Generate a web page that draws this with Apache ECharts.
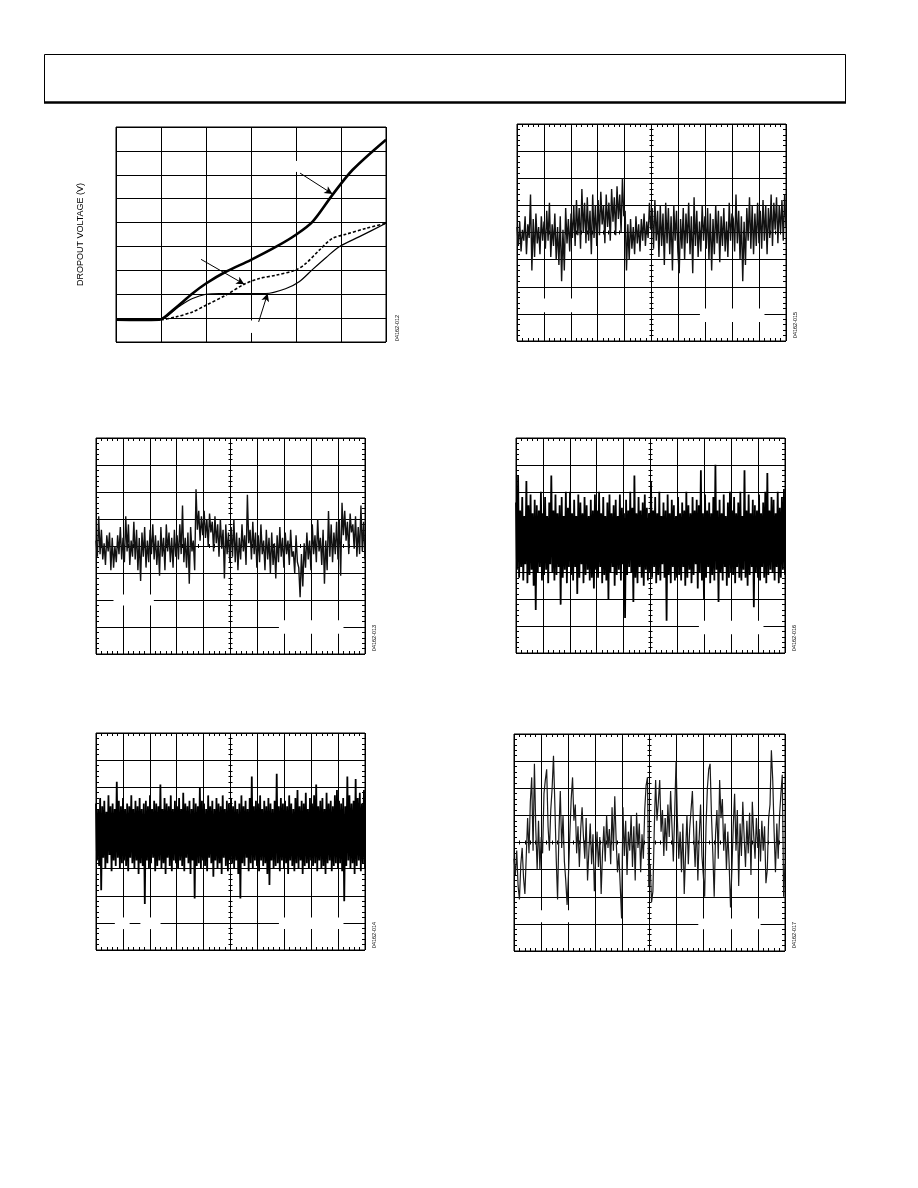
<!DOCTYPE html>
<html><head><meta charset="utf-8">
<script src="https://cdn.jsdelivr.net/npm/echarts@6/dist/echarts.min.js"></script>
<style>html,body{margin:0;padding:0;background:#fff}#c{width:918px;height:1188px}</style>
</head><body><div id="c"></div>
<script>
// ---------- DATA ----------
// Chart 1: dropout voltage curves (x: grid divisions 0..6, y: grid divisions 0..9)
const dropoutHeavy = [[0,0.93],[0.5,0.92],[0.96,0.93],[1.26,1.33],[1.7,2.03],[2.0,2.45],[2.44,2.94],[2.99,3.43],[3.56,3.99],[3.99,4.48],[4.37,5.04],[4.81,6.16],[5.26,7.21],[6.0,8.47]];
const dropoutDashed = [[0,0.93],[0.96,0.93],[1.33,1.05],[1.7,1.26],[2.0,1.54],[2.44,1.96],[2.85,2.42],[3.19,2.66],[3.56,2.80],[3.99,3.01],[4.22,3.29],[4.52,3.85],[4.81,4.34],[5.11,4.51],[5.56,4.76],[6.0,4.97]];
const dropoutThin = [[0,0.93],[0.96,0.93],[1.41,1.50],[1.7,1.82],[2.0,2.0],[2.3,2.03],[3.33,2.03],[3.78,2.24],[4.07,2.52],[4.37,3.04],[4.67,3.54],[4.96,3.99],[5.41,4.41],[6.0,4.97]];
const dropoutArrows = [[[4.09,7.07],[4.81,6.2]],[[1.89,3.46],[2.85,2.42]],[[3.17,0.84],[3.37,2.03]]];
const dropoutYName = 'DROPOUT VOLTAGE (V)';
const figureCodes = ['04162-012','04162-015','04162-013','04162-016','04162-014','04162-017'];

// Scope traces, values in tenths of a vertical division from the centre line
const noiseTopRight = [
 2,-5,4,-7,1,-3,6,-8,3,-2,14,-14,5,-9,7,-4,2,-8,6,-3,
 4,-6,8,-3,11,-9,3,-5,7,-10,2,-12,6,-18,1,-14,9,-4,5,-7,
 7,-2,10,-5,12,-1,9,-6,16,0,11,-4,13,-3,8,-8,14,-2,10,-5,
 12,-1,15,3,10,-4,14,2,11,-3,16,4,13,-1,17,5,14,0,20,6,
 8,-14,3,-10,5,-6,2,-8,6,-4,3,-7,5,-3,7,-5,4,-2,11,1,
 9,-6,12,-3,8,-9,10,-5,7,-12,11,-4,9,-8,6,-14,10,-3,8,-7,
 -15,5,-6,9,-10,7,-4,11,-8,6,-15,13,-5,8,-9,4,-7,10,-3,6,
 -6,9,-10,7,-14,5,-8,10,-4,8,-11,6,-5,9,-7,4,-9,11,-3,7,
 5,-7,14,-4,8,-10,6,-18,4,-12,9,-3,13,-6,10,-8,7,-5,11,-4,
 8,-6,12,-3,10,-8,9,-2,14,-5,11,1,13,-4,10,0,12,-3,14,2];
const noiseMidLeft = [
 2,-4,11,-3,6,-5,1,-7,4,-2,5,-9,3,-8,0,-6,4,-3,7,-5,
 3,-6,11,-2,8,-7,2,-4,9,-5,6,-9,3,-13,5,-4,7,-8,2,-6,
 6,-3,8,-5,4,-7,2,-11,7,-4,3,-9,8,-2,5,-6,3,-8,6,-4,
 4,-5,8,-3,15,-6,3,-8,5,-14,7,-2,2,-9,21,6,13,2,11,4,
 13,3,10,0,12,5,9,-2,11,1,8,-4,10,-1,6,-12,8,-3,5,-6,
 7,-4,10,-6,5,-9,3,-5,8,-2,4,-7,19,1,6,-5,9,-3,5,-8,
 4,-6,8,-3,2,-9,6,-5,3,-10,5,-7,1,-12,4,-6,7,-4,3,-8,
 5,-3,2,-7,6,-4,-2,-10,4,-6,-8,-19,-3,-15,1,-8,5,-5,2,-9,
 8,-3,4,-6,10,-2,3,-7,6,-14,2,-9,13,-4,8,-6,5,-3,9,-5,
 10,-11,16,4,13,2,9,-3,12,5,8,-1,11,-4,7,-3,15,-2,9,-5];
const noiseMidRight = [
 16,-9,26,-12,13,-8,18,-13,11,-7,24,-14,15,-11,19,-9,12,-15,17,-24,15,-10,13,-8,20,-13,
 12,-11,18,-9,11,-14,16,-7,26,-10,13,-13,19,-11,12,-8,15,-22,18,-12,11,-9,20,-14,14,-8,
 20,-11,12,-13,17,-8,11,-18,19,-12,16,-7,12,-14,18,-11,15,-9,11,-13,17,-12,13,-16,19,-9,
 13,-12,20,-8,12,-14,18,-11,11,-13,16,-20,19,-10,12,-8,15,-15,17,-11,11,-9,19,-13,14,-7,
 12,-27,17,-11,13,-8,20,-10,14,-21,26,-12,12,-14,18,-8,13,-12,16,-15,19,-9,14,-13,12,-10,
 24,-12,13,-8,18,-14,12,-11,20,-13,11,-7,16,-12,13,-28,19,-11,12,-14,17,-8,15,-13,11,-12,
 18,-11,12,-13,16,-8,13,-15,20,-12,15,-9,12,-14,18,-11,13,-7,17,-16,15,-10,28,-13,12,-20,
 19,-12,13,-8,16,-14,12,-11,18,-13,30,-9,13,-21,17,-10,12,-13,19,-8,11,-15,16,-12,20,-10,
 13,-11,18,-14,12,-8,16,-12,20,-13,11,-9,28,-12,13,-15,19,-11,12,-8,17,-23,15,-10,13,-12,
 19,-13,12,-8,16,-12,20,-14,27,-11,13,-9,18,-10,17,-13,12,-8,20,-14,14,-12,18,-9,21,-11];
const noiseBottomLeft = [
 14,-7,12,-9,16,-18,13,-6,15,-10,11,-8,17,-5,13,-11,14,-7,12,-9,22,-6,15,-10,13,-8,
 16,-7,12,-9,14,-11,13,-6,17,-8,12,-10,15,-7,13,-12,16,-8,12,-9,14,-23,15,-7,13,-10,
 17,-8,12,-6,15,-11,14,-9,13,-7,21,-10,12,-8,16,-12,14,-6,13,-9,17,-11,12,-7,15,-8,
 13,-10,16,-7,12,-9,18,-11,14,-6,13,-8,15,-12,12,-7,16,-21,14,-9,13,-8,20,-10,15,-7,
 14,-9,12,-11,17,-6,13,-8,15,-13,12,-7,16,-10,14,-8,13,-12,17,-6,12,-9,15,-11,14,-7,
 16,-8,13,-10,15,-7,12,-12,14,-21,17,-8,13,-9,15,-6,12,-11,16,-8,24,-10,13,-7,15,-9,
 14,-11,17,-7,12,-9,15,-8,13,-12,16,-16,14,-7,12,-10,15,-9,25,-8,13,-11,16,-7,14,-10,
 15,-8,13,-12,17,-7,14,-9,12,-11,16,-8,19,-10,13,-7,15,-12,14,-9,18,-8,12,-10,16,-7,
 14,-9,17,-8,21,-11,13,-7,15,-10,16,-9,12,-12,18,-8,14,-7,15,-11,13,-9,17,-8,19,-10,
 15,-8,14,-11,16,-22,13,-9,24,-7,17,-10,14,-8,15,-12,23,-9,16,-7,18,-11,14,-8,19,-10];
const noiseBottomRight = [
 -6,-12,-3,-16,-21,-8,-2,-13,-19,-5,9,-4,15,24,-3,29,5,-10,8,-10,
 2,-4,18,23,27,6,-3,12,20,32,14,-6,-21,4,19,-2,10,-7,-14,-23,
 -12,3,16,24,8,14,-4,6,-9,5,13,2,-6,9,-14,-3,7,-8,3,-18,
 -6,4,-9,2,-19,-4,6,-7,10,-2,5,-8,13,-3,17,1,-11,-4,-16,-28,
 13,-5,8,-12,4,-3,10,-9,6,-14,11,-2,7,-11,3,-6,12,21,24,-16,
 -8,-22,-18,5,23,8,15,23,4,12,-5,9,-3,14,2,19,6,-7,11,30,
 8,-6,4,-11,7,-19,-4,10,-8,5,12,19,3,-9,8,-14,2,14,-5,-12,
 -20,6,20,27,29,10,-4,-20,3,12,-6,23,9,16,-3,7,-10,4,-8,-24,
 -10,6,18,-3,12,-16,7,-5,15,2,-9,8,-4,11,-12,15,3,-6,9,-2,
 5,-7,8,-3,6,-15,-10,9,14,34,23,4,-11,7,-6,10,18,25,-20,-8];

// ---------- LAYOUT / STYLE ----------
const FONT = '"Liberation Sans", Arial, Helvetica, sans-serif';
const BLACK = '#000';
const scopes = [
  {data: noiseTopRight,   box:{left:517, top:124, width:269, height:217}, code:1, codePos:[795,325], lw:1.4, color:'#111',
   blank:[[[-45,-24.3],[-27,-29.4]],[[18,-28],[42,-33]]]},
  {data: noiseMidLeft,    box:{left:96, top:438, width:269, height:216}, code:2, codePos:[374,638], lw:1.4, color:'#111',
   blank:[[[-43.5,-18],[-28.5,-22]],[[18,-27.5],[42,-32.5]]]},
  {data: noiseMidRight,   box:{left:516, top:438, width:269, height:215}, code:3, codePos:[794,638], lw:1.8, color:BLACK,
   blank:[[[18,-28],[42,-33]]]},
  {data: noiseBottomLeft, box:{left:96, top:733, width:269, height:217}, code:4, codePos:[374,935], lw:1.8, color:BLACK,
   blank:[[[-43,-28],[-37.5,-32.3]],[[-33.5,-28],[-26,-32.3]],[[18,-28],[42,-32.3]]]},
  {data: noiseBottomRight,box:{left:514, top:734, width:271, height:217}, code:5, codePos:[794,935], lw:1.2, color:'#1a1a1a',
   blank:[[[-43,-25],[-27,-29.4]],[[18,-28],[41,-32]]]}
];

const grids = [], xAxes = [], yAxes = [], series = [], graphics = [];

// header box
graphics.push({type:'rect', shape:{x:44.5, y:54.5, width:801, height:48}, style:{fill:'none', stroke:BLACK, lineWidth:1}, silent:true});
graphics.push({type:'line', shape:{x1:44, y1:102.5, x2:846, y2:102.5}, style:{stroke:BLACK, lineWidth:2.5}, silent:true});

const hidden = {show:false};
const gridLine = {show:true, lineStyle:{color:BLACK, width:1}};

// ---- Chart 1 ----
grids.push({left:116, top:127, width:270, height:215, show:true, borderColor:BLACK, borderWidth:1, backgroundColor:'transparent'});
xAxes.push({gridIndex:0, type:'value', min:0, max:6, interval:1, axisLine:{show:false, onZero:false}, axisTick:hidden, axisLabel:hidden, splitLine:gridLine});
yAxes.push({gridIndex:0, type:'value', min:0, max:9, interval:1, axisLine:{show:false, onZero:false}, axisTick:hidden, axisLabel:hidden, splitLine:gridLine,
  name:dropoutYName, nameLocation:'middle', nameGap:31, nameTextStyle:{fontFamily:FONT, fontSize:9, color:BLACK}});
series.push({type:'line', xAxisIndex:0, yAxisIndex:0, data:dropoutThin, smooth:0.3, showSymbol:false, symbol:'none',
  lineStyle:{color:BLACK, width:1.2}, silent:true, animation:false,
  markArea:{silent:true, itemStyle:{color:'#fff', opacity:1, borderWidth:0},
    data:[[{coord:[3.9,7.12]},{coord:[4.1,7.58]}],[{coord:[2.9,0.38]},{coord:[3.1,0.9]}]]}});
series.push({type:'line', xAxisIndex:0, yAxisIndex:0, data:dropoutDashed, smooth:0.3, showSymbol:false, symbol:'none',
  lineStyle:{color:BLACK, width:1.6, type:[3,2]}, silent:true, animation:false});
series.push({type:'line', xAxisIndex:0, yAxisIndex:0, data:dropoutHeavy, smooth:0.3, showSymbol:false, symbol:'none',
  lineStyle:{color:BLACK, width:2.6}, silent:true, animation:false,
  markLine:{silent:true, animation:false, symbol:['none','arrow'], symbolSize:[6,8], label:{show:false},
    lineStyle:{color:BLACK, width:1, type:'solid'},
    data: dropoutArrows.map(a => [{coord:a[0]},{coord:a[1]}])}});
graphics.push({type:'text', x:397, y:328, rotation:Math.PI/2, silent:true,
  style:{text:figureCodes[0], fontSize:5.5, fontFamily:FONT, fill:BLACK, align:'center', verticalAlign:'middle', textAlign:'center', textVerticalAlign:'middle'}});

// ---- Scope charts ----
scopes.forEach(s => {
  const gi = grids.length;
  grids.push(Object.assign({show:true, borderColor:BLACK, borderWidth:1, backgroundColor:'transparent'}, s.box));
  const tick = (len) => ({show:true, inside:true, length:len, lineStyle:{color:BLACK, width:1}});
  const minor = (len) => ({show:true, splitNumber:5, length:len, lineStyle:{color:BLACK, width:1}});
  const base = {gridIndex:gi, type:'value', axisLabel:hidden, splitLine:hidden};
  const xb = xAxes.length, yb = yAxes.length;
  const xr = {min:-50, max:50, interval:10}, yr = {min:-40, max:40, interval:10};
  xAxes.push(Object.assign({}, base, xr, {position:'bottom', axisLine:{show:false, onZero:false}, axisTick:tick(3), minorTick:minor(3), splitLine:gridLine}));
  xAxes.push(Object.assign({}, base, xr, {position:'top', axisLine:{show:false, onZero:false}, axisTick:tick(3), minorTick:minor(3)}));
  xAxes.push(Object.assign({}, base, xr, {position:'bottom', axisLine:{show:false, onZero:true, onZeroAxisIndex:yb}, axisTick:tick(2), minorTick:minor(2)}));
  xAxes.push(Object.assign({}, base, xr, {position:'top', axisLine:{show:false, onZero:true, onZeroAxisIndex:yb}, axisTick:tick(2), minorTick:minor(2)}));
  yAxes.push(Object.assign({}, base, yr, {position:'left', axisLine:{show:false, onZero:false}, axisTick:tick(3), minorTick:minor(3), splitLine:gridLine}));
  yAxes.push(Object.assign({}, base, yr, {position:'right', axisLine:{show:false, onZero:false}, axisTick:tick(3), minorTick:minor(3)}));
  yAxes.push(Object.assign({}, base, yr, {position:'left', axisLine:{show:false, onZero:true, onZeroAxisIndex:xb}, axisTick:tick(2), minorTick:minor(2)}));
  yAxes.push(Object.assign({}, base, yr, {position:'right', axisLine:{show:false, onZero:true, onZeroAxisIndex:xb}, axisTick:tick(2), minorTick:minor(2)}));
  const n = s.data.length;
  series.push({type:'line', xAxisIndex:xb, yAxisIndex:yb, showSymbol:false, symbol:'none', silent:true, animation:false,
    sampling:null, lineStyle:{color:s.color, width:s.lw, join:'bevel'},
    data: s.data.map((v,i) => [-50 + i*100/(n-1), v]),
    markArea:{silent:true, itemStyle:{color:'#fff', opacity:1, borderWidth:0},
      data: s.blank.map(b => [{coord:b[0]},{coord:b[1]}])}});
  graphics.push({type:'text', x:s.codePos[0], y:s.codePos[1], rotation:Math.PI/2, silent:true,
    style:{text:figureCodes[s.code], fontSize:5.5, fontFamily:FONT, fill:BLACK, align:'center', verticalAlign:'middle', textAlign:'center', textVerticalAlign:'middle'}});
});

const chart = echarts.init(document.getElementById('c'), null, {renderer:'canvas', width:918, height:1188});
chart.setOption({
  animation:false,
  backgroundColor:'#fff',
  textStyle:{fontFamily:FONT},
  grid:grids, xAxis:xAxes, yAxis:yAxes, series:series, graphic:graphics
});
</script></body></html>
